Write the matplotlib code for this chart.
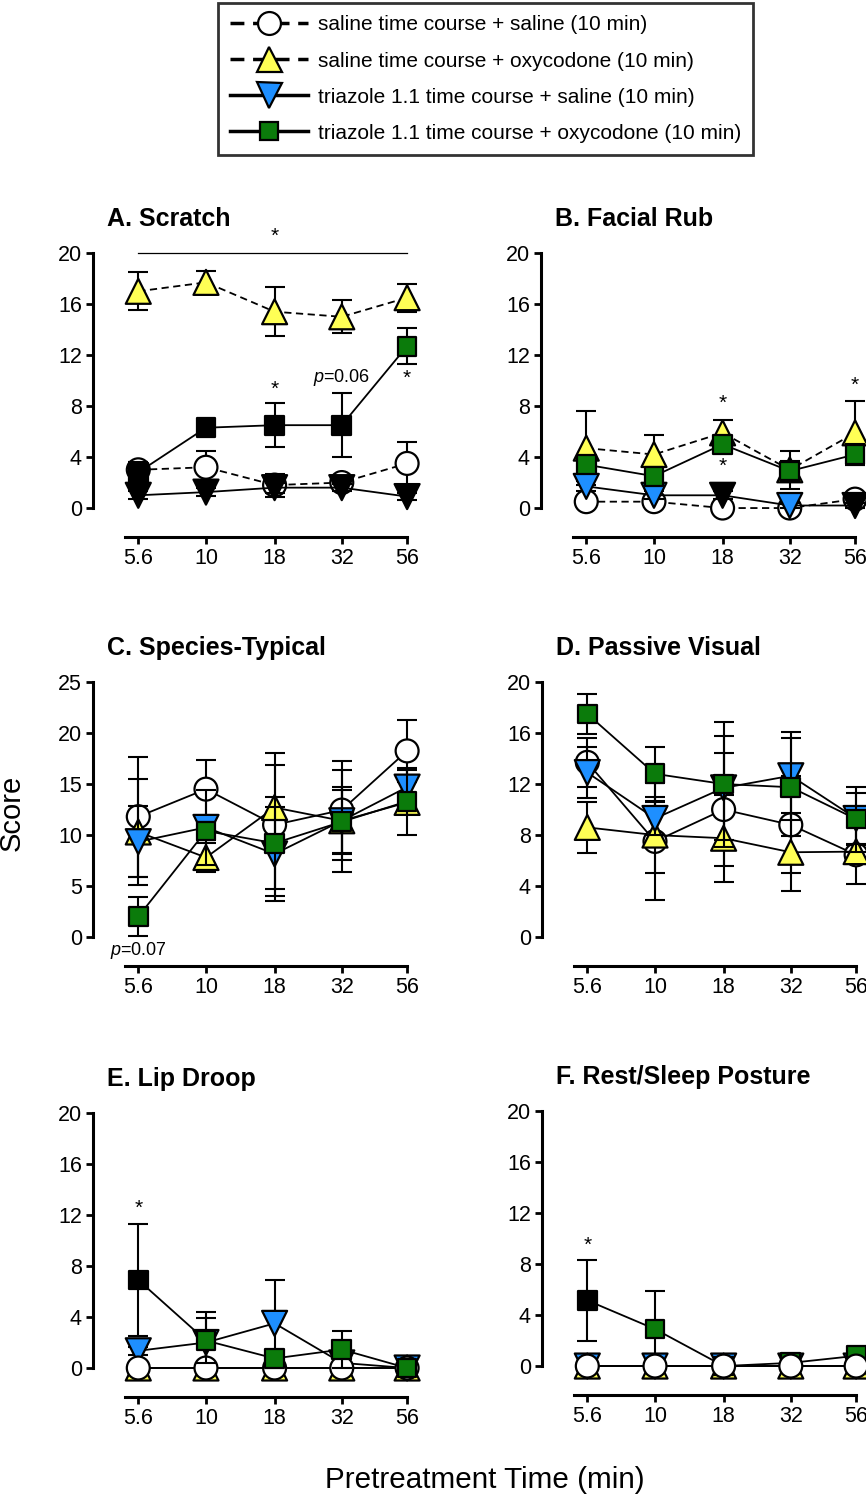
import matplotlib
matplotlib.use('Agg')
import matplotlib.pyplot as plt
from matplotlib.lines import Line2D
from matplotlib.ticker import NullLocator
import numpy as np

plt.rcParams['font.family'] = ['Liberation Sans', 'DejaVu Sans']
plt.rcParams['mathtext.fontset'] = 'custom'
plt.rcParams['mathtext.it'] = 'Liberation Sans:italic'
plt.rcParams['mathtext.rm'] = 'Liberation Sans'

# pretreatment times (min)
times = [5.6, 10, 18, 32, 56]
time_labels = ['5.6', '10', '18', '32', '56']

series_names = ['saline time course + saline (10 min)',
                'saline time course + oxycodone (10 min)',
                'triazole 1.1 time course + saline (10 min)',
                'triazole 1.1 time course + oxycodone (10 min)']

# rows: sal+sal, sal+oxy, triazole+sal, triazole+oxy
scratch_mean = [[3.0, 3.2, 1.8, 2.0, 3.5],
                [17.0, 17.7, 15.4, 15.0, 16.5],
                [1.0, 1.25, 1.6, 1.6, 0.9],
                [2.8, 6.3, 6.5, 6.5, 12.7]]
scratch_sem = [[0.6, 1.3, 0.9, 0.4, 1.7],
               [1.5, 0.9, 1.9, 1.3, 1.1],
               [0.3, 0.3, 0.4, 0.3, 0.3],
               [0.8, 0.3, 1.7, 2.5, 1.4]]
scratch_sig = [[0, 0, 0, 0, 0], [0, 0, 0, 0, 0],
               [1, 1, 1, 1, 1], [1, 1, 1, 1, 0]]

facial_mean = [[0.5, 0.5, 0.0, 0.0, 0.7],
               [4.7, 4.2, 5.9, 3.0, 5.9],
               [1.7, 1.0, 1.0, 0.2, 0.2],
               [3.4, 2.5, 5.0, 2.9, 4.2]]
facial_sem = [[0.2, 0.2, 0.0, 0.0, 0.3],
              [2.9, 1.5, 1.0, 1.5, 2.5],
              [0.4, 0.3, 0.3, 0.2, 0.2],
              [0.6, 0.5, 0.4, 0.8, 0.85]]
facial_sig = [[0, 0, 0, 0, 0], [0, 0, 0, 0, 0],
              [0, 0, 1, 0, 1], [0, 0, 0, 0, 0]]

species_mean = [[11.8, 14.5, 11.0, 12.45, 18.25],
                [10.3, 7.8, 12.7, 11.4, 13.2],
                [9.35, 10.75, 8.15, 11.4, 14.7],
                [2.0, 10.4, 9.2, 11.3, 13.3]]
species_sem = [[5.9, 2.9, 7.0, 4.85, 3.05],
               [5.2, 1.4, 4.2, 3.3, 0.6],
               [3.5, 3.7, 4.6, 5.0, 1.7],
               [1.9, 0.9, 4.5, 3.1, 3.3]]
species_sig = [[0] * 5, [0] * 5, [0] * 5, [0] * 5]

passive_mean = [[13.7, 7.5, 10.0, 8.8, 6.45],
                [8.6, 8.0, 7.75, 6.65, 6.7],
                [12.9, 9.3, 11.7, 12.65, 9.3],
                [17.5, 12.8, 12.0, 11.75, 9.25]]
passive_sem = [[1.9, 4.6, 4.4, 3.8, 2.25],
               [2.0, 3.0, 3.4, 3.05, 0.5],
               [2.0, 1.3, 4.1, 3.45, 2.0],
               [1.6, 2.1, 4.9, 3.85, 2.55]]
passive_sig = [[0] * 5, [0] * 5, [0] * 5, [0] * 5]

lip_mean = [[0, 0, 0, 0, 0],
            [0, 0, 0, 0, 0],
            [1.35, 2.0, 3.5, 0.4, 0],
            [6.9, 2.15, 0.75, 1.45, 0]]
lip_sem = [[0, 0, 0, 0, 0],
           [0, 0, 0, 0, 0],
           [0.3, 2.4, 3.4, 0.3, 0],
           [4.4, 1.75, 0.5, 1.45, 0]]
lip_sig = [[0] * 5, [0] * 5, [0] * 5, [1, 0, 0, 0, 0]]

rest_mean = [[0, 0, 0, 0, 0],
             [0, 0, 0, 0, 0],
             [0, 0, 0, 0, 0],
             [5.15, 2.9, 0, 0.25, 0.8]]
rest_sem = [[0, 0, 0, 0, 0],
            [0, 0, 0, 0, 0],
            [0, 0, 0, 0, 0],
            [3.2, 3.0, 0, 0.2, 0.3]]
rest_sig = [[0] * 5, [0] * 5, [0] * 5, [1, 0, 0, 0, 0]]

# marker styles per series
markers = ['o', '^', 'v', 's']
msizes = [16.5, 18, 18, 13.5]
fills = ['white', '#ffff55', '#1e8fff', '#0b7b0b']
dash = (0, (4, 2.5))

# drawing rank of each series (higher = on top), per panel
rank_default = [0, 1, 2, 3]
rank_lip = [2, 0, 1, 3]
rank_rest = [3, 0, 1, 2]

panels = [
    # title, mean, sem, sig, ymax, ystep, dashed, rank, pos
    ('A. Scratch', scratch_mean, scratch_sem, scratch_sig, 20, 4, True, rank_default, (0.1074, 0.6613)),
    ('B. Facial Rub', facial_mean, facial_sem, facial_sig, 20, 4, True, rank_default, (0.6247, 0.6613)),
    ('C. Species-Typical', species_mean, species_sem, species_sig, 25, 5, False, rank_default, (0.1074, 0.3753)),
    ('D. Passive Visual', passive_mean, passive_sem, passive_sig, 20, 4, False, rank_default, (0.6259, 0.3753)),
    ('E. Lip Droop', lip_mean, lip_sem, lip_sig, 20, 4, False, rank_lip, (0.1074, 0.088)),
    ('F. Rest/Sleep Posture', rest_mean, rest_sem, rest_sig, 20, 4, False, rank_rest, (0.6259, 0.0893)),
]

fig = plt.figure(figsize=(8.66, 15), dpi=100)
axes = []
for title, mean, sem, sig, ymax, ystep, dashed, rank, pos in panels:
    ax = fig.add_axes([pos[0], pos[1], 0.372, 0.170])
    axes.append(ax)
    for i in range(4):
        m = np.array(mean[i], dtype=float)
        e = np.array(sem[i], dtype=float)
        z = 2 + rank[i]
        ls = dash if (dashed and i < 2) else '-'
        ax.plot(times, m, ls=ls, color='k', lw=1.3, zorder=z, clip_on=False)
        ok = e > 0
        if ok.any():
            ax.errorbar(np.array(times)[ok], m[ok], yerr=e[ok], fmt='none',
                        ecolor='k', elinewidth=1.5, capsize=7.5, capthick=1.5,
                        zorder=z + 0.2, clip_on=False)
        fc = ['k' if s else fills[i] for s in sig[i]]
        ax.scatter(times, m, s=msizes[i] ** 2, marker=markers[i], c=fc,
                   edgecolors='k', linewidths=1.6, zorder=z + 0.5, clip_on=False)
    ax.set_xscale('log')
    ax.set_xlim(3.8, 60)
    ax.set_ylim(0, ymax)
    ax.xaxis.set_minor_locator(NullLocator())
    ax.set_xticks(times)
    ax.set_xticklabels(time_labels)
    ax.set_yticks(np.arange(0, ymax + 1, ystep))
    for s in ['top', 'right']:
        ax.spines[s].set_visible(False)
    ax.spines['left'].set_linewidth(2.2)
    ax.spines['bottom'].set_linewidth(2.2)
    ax.spines['bottom'].set_position(('outward', 21))
    ax.spines['bottom'].set_bounds(5.0, 56)
    ax.tick_params(direction='out', length=5, width=2, labelsize=15.5, pad=3)
    ax.text(0.043, 1.133, title, transform=ax.transAxes, fontsize=18,
            fontweight='bold', va='center', ha='left')

star = dict(ha='center', va='center', fontsize=15)
# A annotations
a = axes[0]
a.plot([5.6, 56], [20, 20], color='k', lw=0.9, clip_on=False)
a.text(18, 21.3, '*', **star)
a.text(18, 9.3, '*', **star)
a.text(56, 10.2, '*', **star)
a.text(32, 10.2, r'$p$=0.06', ha='center', va='center', fontsize=13)
# B annotations
b = axes[1]
b.text(18, 8.2, '*', **star)
b.text(18, 3.3, '*', **star)
b.text(56, 9.6, '*', **star)
# C annotation
axes[2].text(5.6, -1.3, r'$p$=0.07', ha='center', va='center', fontsize=13)
# E, F annotations
axes[4].text(5.6, 12.5, '*', **star)
axes[5].text(5.6, 9.5, '*', **star)

fig.text(0.014, 0.458, 'Score', rotation=90, ha='center', va='center', fontsize=21)
fig.text(0.56, 0.013, 'Pretreatment Time (min)', ha='center', va='center', fontsize=21.3)

handles = []
for i in range(4):
    ls = dash if i < 2 else '-'
    handles.append(Line2D([0], [0], color='k', lw=2.5, ls=ls, marker=markers[i],
                          markersize=msizes[i], markerfacecolor=fills[i],
                          markeredgecolor='k', markeredgewidth=1.6))
leg = fig.legend(handles, series_names, loc='upper center',
                 bbox_to_anchor=(0.5606, 0.998), fontsize=15, frameon=True,
                 fancybox=False, edgecolor='k', handlelength=3.75,
                 labelspacing=0.82, borderpad=0.6, handletextpad=0.45,
                 borderaxespad=0)
leg.get_frame().set_linewidth(2)

fig.savefig('out.png', dpi=100)
